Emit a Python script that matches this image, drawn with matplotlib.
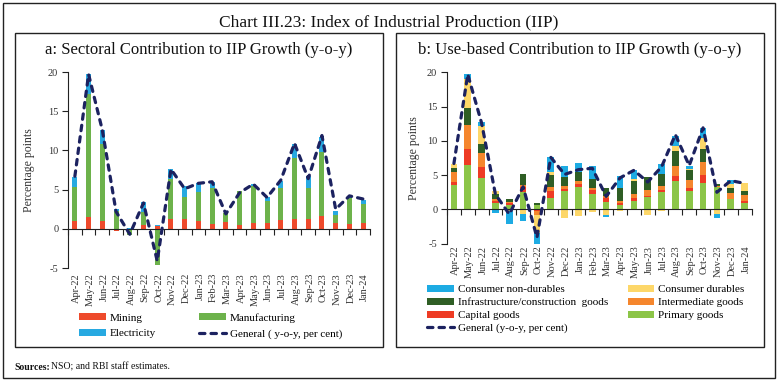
import numpy as np
import matplotlib
matplotlib.use('Agg')
import matplotlib.pyplot as plt
from matplotlib.patches import Rectangle
from matplotlib.transforms import blended_transform_factory, offset_copy

plt.rcParams['font.family'] = ['Liberation Serif', 'DejaVu Serif']

# months on the x axis
months = ['Apr-22', 'May-22', 'Jun-22', 'Jul-22', 'Aug-22', 'Sep-22', 'Oct-22', 'Nov-22',
          'Dec-22', 'Jan-23', 'Feb-23', 'Mar-23', 'Apr-23', 'May-23', 'Jun-23', 'Jul-23',
          'Aug-23', 'Sep-23', 'Oct-23', 'Nov-23', 'Dec-23', 'Jan-24']

# general IIP growth (y-o-y, per cent)
general = [6.7, 19.7, 12.6, 2.2, -0.7, 3.3, -4.1, 7.6, 5.1, 5.8, 6.0, 1.9,
           4.6, 5.7, 4.0, 6.2, 10.9, 6.4, 11.9, 2.5, 4.2, 3.8]

# panel a: sectoral contributions
mining = [1.0, 1.5, 1.0, -0.3, -0.2, 0.5, 0.3, 1.2, 1.2, 1.0, 0.55, 0.9,
          0.5, 0.7, 0.8, 1.1, 1.3, 1.2, 1.6, 0.8, 0.6, 0.7]
manufacturing = [4.3, 15.7, 9.8, 2.3, -0.6, 1.6, -4.6, 5.2, 2.9, 3.7, 4.65, 1.1,
                 4.3, 4.7, 2.7, 4.1, 7.7, 4.0, 8.2, 1.0, 3.3, 2.5]
electricity = [1.3, 2.5, 1.8, 0.2, 0.1, 1.3, 0.2, 1.2, 1.3, 1.1, 0.8, -0.2,
               -0.1, 0.3, 0.5, 0.9, 1.8, 1.55, 1.9, 0.5, 0.2, 0.5]

# panel b: use-based contributions
primary = [3.5, 6.5, 4.65, 0.9, 0.6, 2.6, 0.6, 1.6, 2.7, 3.3, 2.3, 1.1,
           0.6, 1.2, 1.8, 2.6, 4.1, 2.7, 3.9, 3.2, 1.45, 0.95]
capital = [0.5, 2.35, 1.6, 0.3, 0.3, 0.6, -0.3, 1.1, 0.3, 0.45, 0.5, 0.6,
           0.4, 0.4, 0.1, 0.25, 0.75, 0.4, 1.1, 0.05, 0.1, 0.3]
intermediate = [1.4, 3.4, 1.95, 0.3, 0.2, 0.4, -0.5, 0.6, 0.35, 0.35, 0.35, 0.2,
                0.2, 0.7, 1.0, 0.6, 1.45, 1.2, 1.95, 0.1, 0.85, 0.85]
infra = [0.7, 2.6, 1.3, 0.7, 0.4, 1.5, 0.3, 1.7, 1.45, 1.4, 1.3, 1.2,
         1.9, 1.9, 1.8, 1.75, 2.25, 1.45, 1.85, 0.3, 0.75, 0.65]
durables = [0.5, 4.1, 2.7, 0.5, -0.3, -0.6, -2.6, 0.5, -1.2, -1.0, -0.4, -0.8,
            -0.2, 0.2, -0.8, -0.3, 0.7, 0.1, 1.55, -0.6, 0.5, 1.1]
nondurables = [-0.1, 0.8, 0.5, -0.5, -1.8, -1.1, -1.6, 2.1, 1.5, 1.3, 1.9, -0.35,
               1.8, 1.4, 0.1, 1.4, 1.45, 0.5, 1.55, -0.6, 0.6, 0.0]

W, H = 781, 383
fig = plt.figure(figsize=(W / 100, H / 100), dpi=100)


def px_rect(x0, y0, x1, y1):
    # pixel box (top-left origin) -> figure fraction [left, bottom, width, height]
    return [x0 / W, 1 - y1 / H, (x1 - x0) / W, (y1 - y0) / H]


def frame(x0, y0, x1, y1, lw=1.0):
    l, b, w, h = px_rect(x0, y0, x1, y1)
    fig.patches.append(Rectangle((l, b), w, h, transform=fig.transFigure,
                                 fill=False, edgecolor='#222222', linewidth=lw))


frame(3, 3, 775, 378)
frame(15, 33, 383, 347)
frame(396, 33, 764, 347)

fig.text(389 / W, 1 - 22 / H, 'Chart III.23: Index of Industrial Production (IIP)',
         ha='center', va='center', fontsize=12.5, color='#111111')
fig.text(199 / W, 1 - 50 / H, 'a: Sectoral Contribution to IIP Growth (y-o-y)',
         ha='center', va='center', fontsize=12, color='#111111')
fig.text(580 / W, 1 - 50 / H, 'b: Use-based Contribution to IIP Growth (y-o-y)',
         ha='center', va='center', fontsize=12, color='#111111')
fig.text(14 / W, 1 - 367 / H, 'Sources:', ha='left', va='center', fontsize=7,
         fontweight='bold', color='#111111')
fig.text(51 / W, 1 - 367 / H, 'NSO; and RBI staff estimates.', ha='left', va='center',
         fontsize=7, color='#111111')

x = np.arange(len(months))


def stacked(ax, series, colors, labels, width):
    pos = np.zeros(len(x))
    neg = np.zeros(len(x))
    handles = []
    for vals, c, lab in zip(series, colors, labels):
        v = np.array(vals, dtype=float)
        bottom = np.where(v >= 0, pos, neg)
        h = ax.bar(x, v, width, bottom=bottom, color=c, label=lab, zorder=2)
        pos = pos + np.clip(v, 0, None)
        neg = neg + np.clip(v, None, 0)
        handles.append(h)
    return handles


def style_axes(ax, label_pad, ylabel_pad):
    ax.set_xlim(-0.5, len(x) - 0.5)
    ax.set_ylim(-5, 20)
    ax.set_yticks([-5, 0, 5, 10, 15, 20])
    ax.set_yticklabels(['-5', '0', '5', '10', '15', '20'])
    for s in ['top', 'right']:
        ax.spines[s].set_visible(False)
    ax.spines['bottom'].set_position(('data', 0))
    ax.spines['left'].set_color('#222222')
    ax.spines['bottom'].set_color('#222222')
    ax.set_xticks(np.arange(len(x) + 1) - 0.5)
    ax.set_xticklabels([])
    ax.tick_params(axis='x', direction='out', length=4, width=0.8, color='#222222')
    ax.tick_params(axis='y', direction='out', length=4, width=0.8, color='#222222',
                   labelsize=7.5, labelcolor='#333333', pad=3)
    ax.set_ylabel('Percentage points', fontsize=8.5, color='#333333', labelpad=ylabel_pad)
    tr = blended_transform_factory(ax.transData, ax.transAxes)
    tr = offset_copy(tr, fig=fig, x=1.5, y=-label_pad, units='dots')
    for i, m in enumerate(months):
        ax.text(i, 0, m, transform=tr, rotation=90, ha='center', va='top',
                fontsize=7.5, color='#333333')


navy = '#1C2260'
line_kw = dict(color=navy, linewidth=2.3, linestyle=(0, (1.7, 1.9)),
               dash_capstyle='round', zorder=3)
leg_kw = dict(ncol=2, frameon=False, fontsize=8, handlelength=2.4,
              handleheight=0.6, handletextpad=0.35, loc='upper left',
              bbox_transform=fig.transFigure, borderaxespad=0, borderpad=0)

# panel a
ax1 = fig.add_axes(px_rect(68, 72, 370, 268))
h1 = stacked(ax1, [mining, manufacturing, electricity],
             ['#EE4A2B', '#6DB24B', '#27A9E1'],
             ['Mining', 'Manufacturing', 'Electricity'], 0.36)
l1, = ax1.plot(x, general, **line_kw)
style_axes(ax1, 5, 9)
ax1.legend([h1[0], h1[2], h1[1], l1],
           ['Mining', 'Electricity', 'Manufacturing', 'General ( y-o-y, per cent)'],
           columnspacing=3.9, labelspacing=0.55,
           bbox_to_anchor=(79 / W, 1 - 313 / H), **leg_kw)

# panel b
ax2 = fig.add_axes(px_rect(447, 72.3, 751.5, 243.7))
h2 = stacked(ax2, [primary, capital, intermediate, infra, durables, nondurables],
             ['#8CC548', '#EE3B24', '#F5862D', '#2F5E25', '#FDD769', '#1DABE3'],
             ['Primary goods', 'Capital goods', 'Intermediate goods',
              'Infrastructure/construction  goods', 'Consumer durables',
              'Consumer non-durables'], 0.48)
l2, = ax2.plot(x, general, **line_kw)
style_axes(ax2, 2, 5)
empty = Rectangle((0, 0), 1, 1, fill=False, edgecolor='none', visible=False)
ax2.legend([h2[5], h2[3], h2[1], l2, h2[4], h2[2], h2[0], empty],
           ['Consumer non-durables', 'Infrastructure/construction  goods', 'Capital goods',
            'General (y-o-y, per cent)', 'Consumer durables', 'Intermediate goods',
            'Primary goods', ''],
           columnspacing=1.8, labelspacing=0.3,
           bbox_to_anchor=(427 / W, 1 - 285 / H), **leg_kw)

fig.savefig('out.png', dpi=100)
